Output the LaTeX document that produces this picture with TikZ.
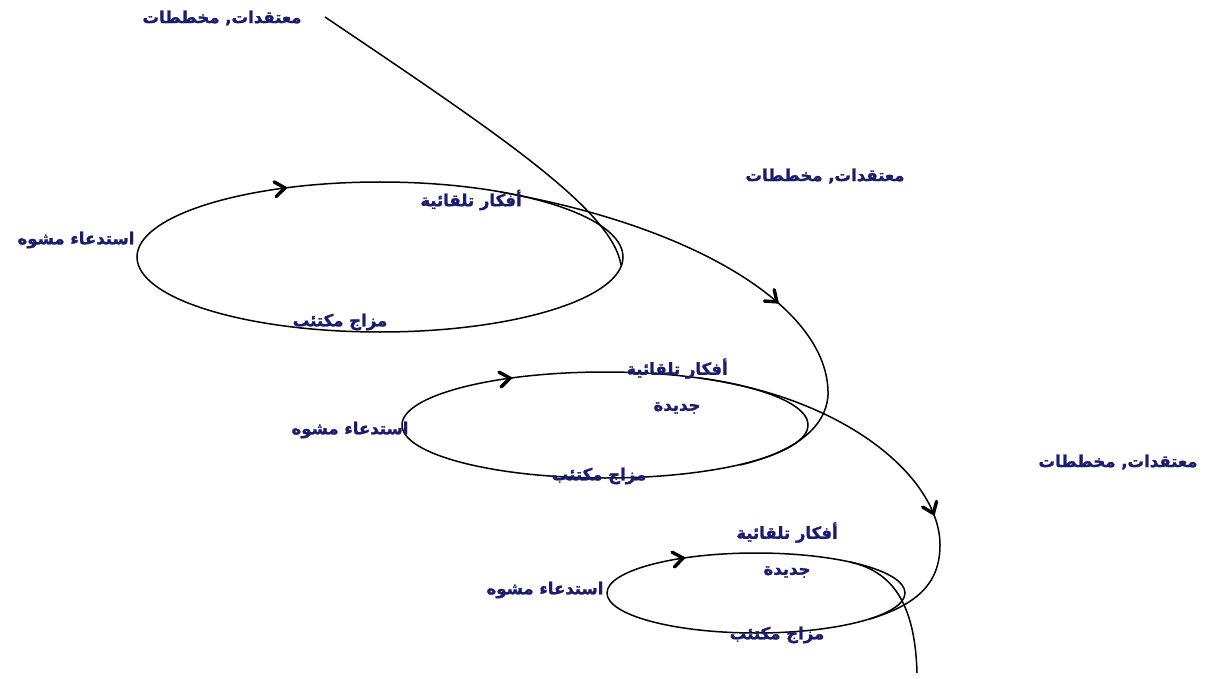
\documentclass[tikz,border=0pt]{standalone}
\usepackage{fontspec}
\newfontfamily\arabicfont[Script=Arabic, BoldFeatures={FakeBold=1.5}]{DejaVu Sans}
\TeXXeTstate=1
\usetikzlibrary{decorations.markings}
\definecolor{navy}{RGB}{28,28,110}
\tikzset{
  lbl/.style={text=navy, font=\arabicfont\bfseries\fontsize{16.5}{36}\selectfont, inner sep=0pt, align=center},
  line/.style={line width=1.5pt, draw=black},
  chev/.style={draw=black, line width=3.4pt, line cap=round, line join=miter},
  tipat/.style={postaction={decorate, decoration={markings,
      mark=at position #1 with {\draw[chev] (-9pt,7.5pt) -- (1pt,0pt) -- (-9pt,-7.5pt);}}}}
}
\begin{document}
\begin{tikzpicture}[x=1pt,y=-1pt]
\useasboundingbox (0,0) rectangle (1210,679);
% ellipses
\draw[line, tipat=0.66] (380,257) ellipse [x radius=243, y radius=75];
\draw[line, tipat=0.64] (605,425) ellipse [x radius=203, y radius=53];
\draw[line, tipat=0.635] (756,593) ellipse [x radius=149, y radius=40];
% spiral curve pieces
\coordinate (a0) at (325,17);
\coordinate (a1) at (621,265);
\coordinate (b0) at (500,192);
\coordinate (b1) at (828,395);
\coordinate (b2) at (740,465);
\coordinate (c0) at (700,378);
\coordinate (c1) at (940,545);
\coordinate (c2) at (870,619);
\coordinate (d0) at (850,562);
\coordinate (d1) at (917,673);
\draw[line] (a0) .. controls (500,135) and (612,210) .. (a1);
\draw[line, tipat=0.565] (b0) .. controls (700,227) and (830,310) .. (b1) .. controls (826,430) and (790,453) .. (b2);
\draw[line, tipat=0.66] (c0) .. controls (850,399) and (940,480) .. (c1) .. controls (940,585) and (915,605) .. (c2);
\draw[line] (d0) .. controls (890,571) and (915,600) .. (d1);
% labels
\node[lbl] (t1) at (222,18) {\beginR معتقدات, مخططات\endR};
\node[lbl] (t2) at (825,176) {\beginR معتقدات, مخططات\endR};
\node[lbl] (t3) at (1118,462) {\beginR معتقدات, مخططات\endR};
\node[lbl] (f1) at (471,200) {\beginR أفكار تلقائية\endR};
\node[lbl] (r1) at (76,240) {\beginR استدعاء مشوه\endR};
\node[lbl] (m1) at (340,322) {\beginR مزاج مكتئب\endR};
\node[lbl] (f2) at (677,386) {\beginR أفكار تلقائية\endR\\\beginR جديدة\endR};
\node[lbl] (r2) at (350,430) {\beginR استدعاء مشوه\endR};
\node[lbl] (m2) at (599,476) {\beginR مزاج مكتئب\endR};
\node[lbl] (f3) at (787,550) {\beginR أفكار تلقائية\endR\\\beginR جديدة\endR};
\node[lbl] (r3) at (545,590) {\beginR استدعاء مشوه\endR};
\node[lbl] (m3) at (777,635) {\beginR مزاج مكتئب\endR};
\end{tikzpicture}
\end{document}
